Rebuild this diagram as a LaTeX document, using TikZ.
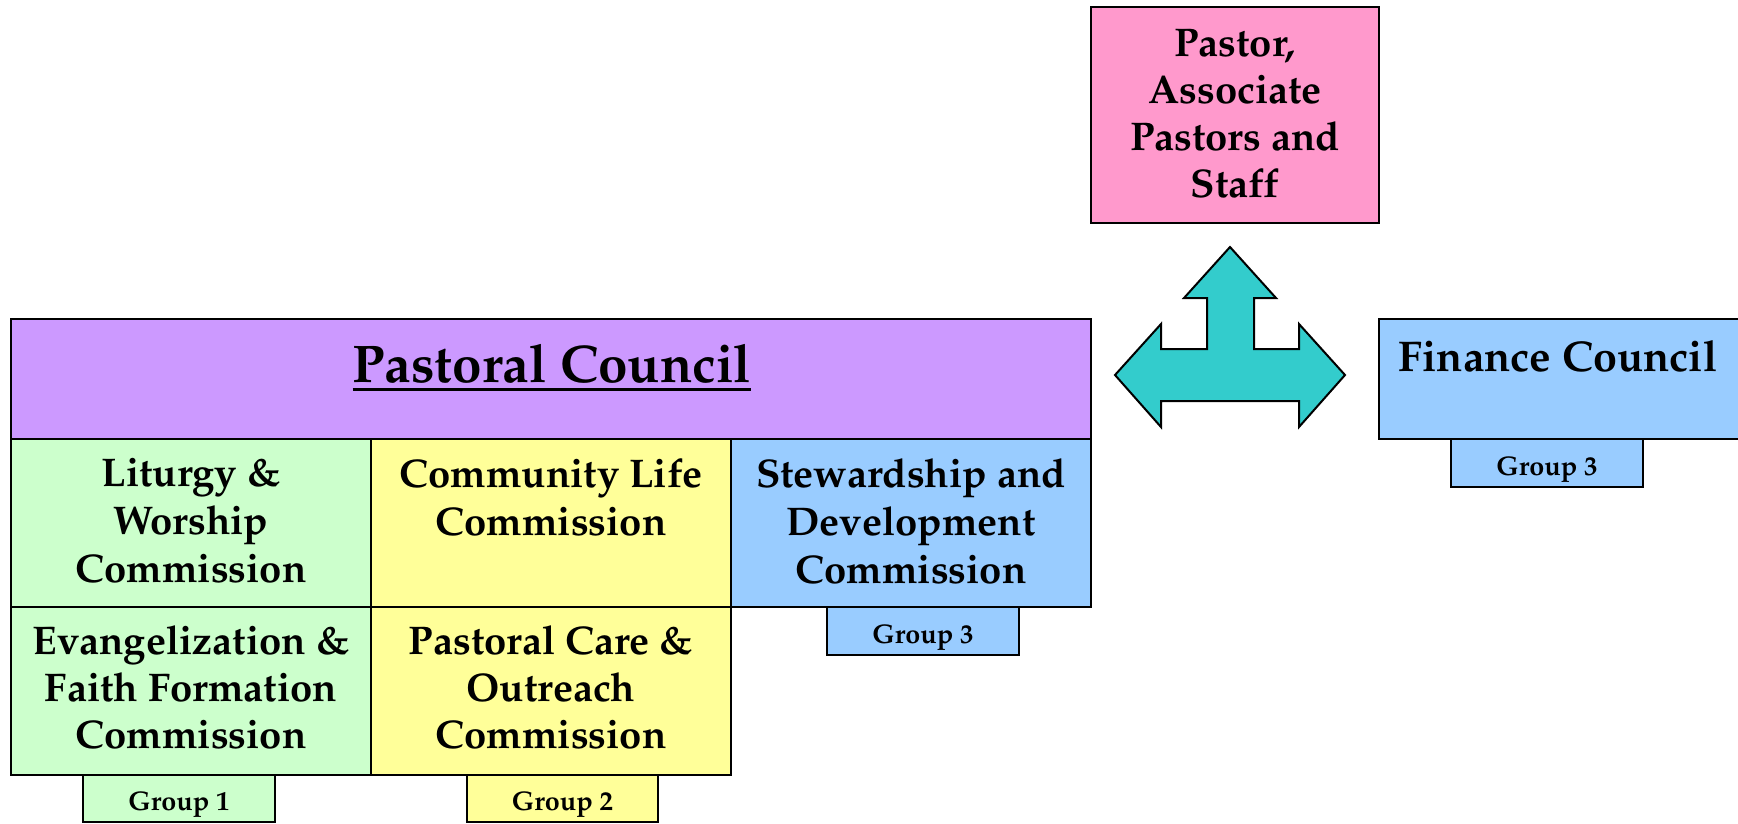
\documentclass[tikz,border=0pt]{standalone}
\usepackage[T1]{fontenc}
\renewcommand{\rmdefault}{ppl}
\definecolor{pcpurple}{HTML}{CC99FF}
\definecolor{cgreen}{HTML}{CCFFCC}
\definecolor{cyellow}{HTML}{FFFF99}
\definecolor{cblue}{HTML}{99CCFF}
\definecolor{cpink}{HTML}{FF99CC}
\definecolor{cteal}{HTML}{33CCCC}
\newcommand\ulbox[1]{\setbox0\hbox{#1}\makebox[0pt][l]{\rule[-9pt]{\wd0}{3.5pt}}\box0}
\tikzset{
  box/.style={draw=black, line width=2pt, anchor=north west, inner sep=0pt, outer sep=0pt},
  big/.style={font=\fontsize{40}{48}\selectfont\bfseries, align=center, inner sep=0pt},
  grptext/.style={font=\fontsize{27}{32}\selectfont\bfseries, inner sep=0pt, anchor=base},
}
\begin{document}
\begin{tikzpicture}[x=1pt,y=-1pt]
\useasboundingbox (0,0) rectangle (1738,823);
% group boxes
\node[box, fill=cgreen, minimum width=192pt, minimum height=47pt] (g1) at (83,775) {};
\node[box, fill=cyellow, minimum width=191pt, minimum height=47pt] (g2) at (467,775) {};
\node[box, fill=cblue, minimum width=192pt, minimum height=48pt] (g3s) at (827,607) {};
\node[box, fill=cblue, minimum width=192pt, minimum height=48pt] (g3f) at (1451,439) {};
% main boxes
\node[box, fill=pcpurple, minimum width=1080pt, minimum height=120pt] (pc) at (11,319) {};
\node[box, fill=cgreen, minimum width=360pt, minimum height=168pt] (lit) at (11,439) {};
\node[box, fill=cyellow, minimum width=360pt, minimum height=168pt] (com) at (371,439) {};
\node[box, fill=cblue, minimum width=360pt, minimum height=168pt] (stw) at (731,439) {};
\node[box, fill=cgreen, minimum width=360pt, minimum height=168pt] (evg) at (11,607) {};
\node[box, fill=cyellow, minimum width=360pt, minimum height=168pt] (pcare) at (371,607) {};
\node[box, fill=cpink, minimum width=288pt, minimum height=216pt] (pastor) at (1091,7) {};
\node[box, fill=cblue, minimum width=362pt, minimum height=120pt] (fin) at (1379,319) {};
% arrow
\draw[fill=cteal, line width=2pt, line join=miter]
  (1230,247) -- (1276,298) -- (1254,298) -- (1254,349) -- (1299,349) -- (1299,324)
  -- (1345,375) -- (1299,427) -- (1299,401) -- (1161,401) -- (1161,427) -- (1115,375)
  -- (1161,324) -- (1161,349) -- (1207,349) -- (1207,298) -- (1184,298) -- cycle;
% texts
\node[font=\fontsize{53}{60}\selectfont\bfseries, inner sep=0pt, anchor=base] (pcT) at (552,382) {\ulbox{Pastoral Council}};
\node[big, anchor=north] (litT) at ([yshift=-19pt]lit.north) {Liturgy \&\\Worship\\Commission};
\node[big, anchor=north] (comT) at ([yshift=-19pt]com.north) {Community Life\\Commission};
\node[big, anchor=north] (stwT) at ([yshift=-19pt]stw.north) {Stewardship and\\Development\\Commission};
\node[big, anchor=north, font=\fontsize{40}{47}\selectfont\bfseries] (evgT) at ([yshift=-18pt]evg.north) {Evangelization \&\\Faith Formation\\Commission};
\node[big, anchor=north, font=\fontsize{40}{47}\selectfont\bfseries] (pcareT) at ([yshift=-18pt]pcare.north) {Pastoral Care \&\\Outreach\\Commission};
\node[font=\fontsize{40}{47}\selectfont\bfseries, align=center, inner sep=0pt] (pastorT) at ([yshift=1pt]pastor.center) {Pastor,\\Associate\\Pastors and\\Staff};
\node[font=\fontsize{43}{50}\selectfont\bfseries, inner sep=0pt, anchor=base] (finT) at (1558,371) {Finance Council};
\node[grptext] (g1T) at ([yshift=12pt]g1.south) {Group 1};
\node[grptext] (g2T) at ([yshift=12pt]g2.south) {Group 2};
\node[grptext] (g3sT) at ([yshift=12pt]g3s.south) {Group 3};
\node[grptext] (g3fT) at ([yshift=12pt]g3f.south) {Group 3};
\end{tikzpicture}
\end{document}
